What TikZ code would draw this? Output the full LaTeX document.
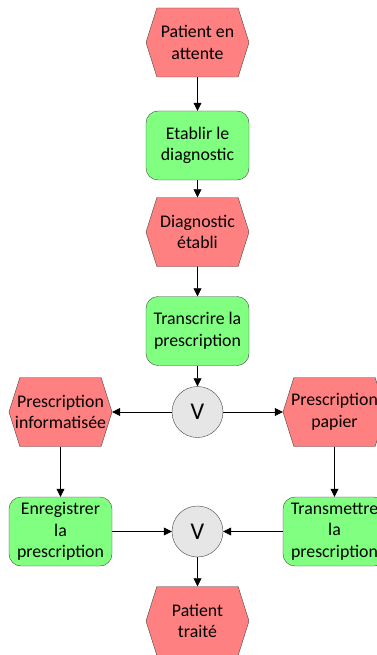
\documentclass[tikz,border=0pt]{standalone}
\usepackage{fontspec}
\setmainfont{Carlito}
\usetikzlibrary{arrows.meta,shapes.symbols}
\definecolor{evtred}{RGB}{255,128,128}
\definecolor{fngreen}{RGB}{128,255,128}
\definecolor{opgray}{RGB}{230,230,230}
\definecolor{edgegray}{RGB}{70,70,70}
\def\fitline#1{\makebox[0pt]{#1}}
\tikzset{
	event/.style={signal, signal to=west and east, signal pointer angle=145, draw=edgegray, fill=evtred,
		minimum width=103pt, minimum height=69pt, inner sep=0pt, align=center, font=\fontsize{17.8}{21.5}\selectfont},
	function/.style={rectangle, rounded corners=12pt, draw=edgegray, fill=fngreen,
		minimum width=103pt, minimum height=69pt, inner sep=0pt, align=center, font=\fontsize{17.8}{21.5}\selectfont},
	xorop/.style={circle, draw=edgegray, fill=opgray, minimum size=51pt, inner sep=0pt, font=\fontsize{24}{24}\selectfont},
	flow/.style={-{Triangle[length=8pt,width=8pt]}, black, line width=0.7pt}
}

\begin{document}
\begin{tikzpicture}[x=1pt, y=-1pt]
			%%%%% START %%%%%
			\useasboundingbox (0, 0) rectangle (376, 655);
			
			\node[event] (waiting) at (197.5, 42.5) {Patient en\\attente};
			\node[function] (diagnose) at (197.5, 145.5) {Etablir le\\diagnostic};
			\node[event] (diagnosed) at (197.5, 232) {Diagnostic\\établi};
			\node[function] (transcribe) at (197.5, 331) {Transcrire la\\prescription};
			
			\node[xorop] (split) at (197.5, 412) {V};
			\node[event] (digital) at (60.5, 412) {\fitline{Prescription}\\\fitline{informatisée}};
			\node[event] (paper) at (334.5, 412) {\fitline{Prescription}\\\fitline{papier}};
			
			\node[function] (record) at (60.5, 531.5) {Enregistrer\\la\\prescription};
			\node[function] (forward) at (334.5, 531.5) {Transmettre\\la\\prescription};
			\node[xorop] (join) at (197.5, 531.5) {V};
			
			\node[event] (treated) at (197.5, 621) {Patient\\traité};
			
			\draw[flow] (waiting) -- (diagnose);
			\draw[flow] (diagnose) -- (diagnosed);
			\draw[flow] (diagnosed) -- (transcribe);
			\draw[flow] (transcribe) -- (split);
			\draw[flow] (split) -- (digital.east);
			\draw[flow] (split) -- (paper.west);
			\draw[flow] (digital) -- (record);
			\draw[flow] (paper) -- (forward);
			\draw[flow] (record) -- (join);
			\draw[flow] (forward) -- (join);
			\draw[flow] (join) -- (treated);
			%%%%% END %%%%%
\end{tikzpicture}
\end{document}
